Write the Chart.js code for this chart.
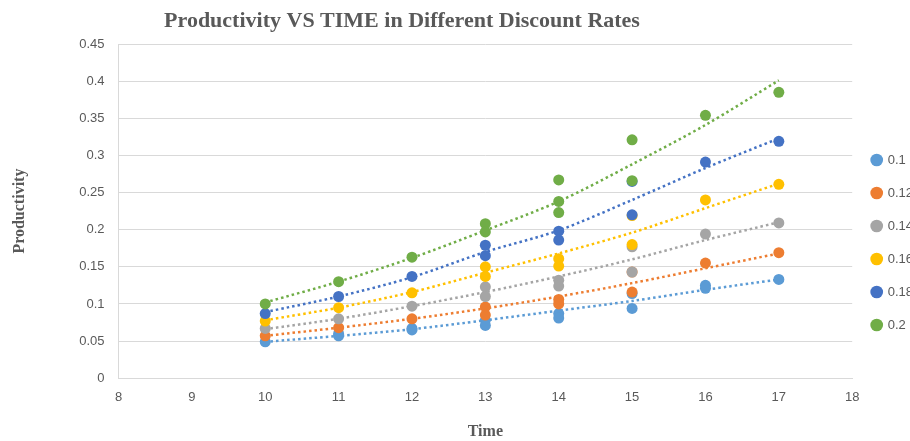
<!DOCTYPE html>
<html lang="en">
<head>
    <meta charset="UTF-8">
    <title>Productivity VS TIME in Different Discount Rates</title>
    <script src="https://cdn.jsdelivr.net/npm/chart.js"></script>
    <style>
        html, body { margin: 0; padding: 0; overflow: hidden; background: #fff; }
        #wrap { width: 923px; height: 441px; position: relative; }
    </style>
</head>
<body>
    <div id="wrap">
        <canvas id="myChart"></canvas>
    </div>

    <script>
        // discount rates (legend)
        const rates = ['0.1', '0.12', '0.14', '0.16', '0.18', '0.2'];
        const colors = ['#5B9BD5', '#ED7D31', '#A5A5A5', '#FFC000', '#4472C4', '#70AD47'];

        // observed points, per rate
        const time01 = [10, 11, 11, 12, 12, 13, 13, 14, 14, 15, 15, 16, 16, 17];
        const prod01 = [0.049, 0.060, 0.057, 0.067, 0.065, 0.078, 0.071, 0.087, 0.081, 0.114, 0.094, 0.125, 0.121, 0.133];
        const time012 = [10, 11, 12, 13, 13, 14, 14, 15, 15, 16, 17];
        const prod012 = [0.057, 0.068, 0.080, 0.096, 0.085, 0.106, 0.100, 0.143, 0.116, 0.155, 0.169];
        const time014 = [10, 11, 12, 13, 13, 14, 14, 15, 15, 16, 17];
        const prod014 = [0.067, 0.080, 0.097, 0.123, 0.110, 0.132, 0.124, 0.177, 0.143, 0.194, 0.209];
        const time016 = [10, 11, 12, 13, 13, 14, 14, 15, 15, 16, 17];
        const prod016 = [0.077, 0.095, 0.115, 0.150, 0.137, 0.161, 0.151, 0.219, 0.180, 0.240, 0.261];
        const time018 = [10, 11, 12, 13, 13, 14, 14, 15, 15, 16, 17];
        const prod018 = [0.087, 0.110, 0.137, 0.179, 0.165, 0.198, 0.186, 0.265, 0.220, 0.291, 0.319];
        const time02 = [10, 11, 12, 13, 13, 14, 14, 14, 15, 15, 16, 17];
        const prod02 = [0.100, 0.130, 0.163, 0.208, 0.197, 0.267, 0.238, 0.223, 0.321, 0.266, 0.354, 0.385];

        // dotted trendlines
        const trendTime = [10, 11, 12, 13, 14, 15, 16, 17];
        const trend01 = [0.049, 0.057, 0.066, 0.078, 0.091, 0.104, 0.119, 0.133];
        const trend012 = [0.057, 0.068, 0.080, 0.094, 0.110, 0.128, 0.148, 0.168];
        const trend014 = [0.066, 0.080, 0.097, 0.116, 0.137, 0.160, 0.186, 0.210];
        const trend016 = [0.078, 0.095, 0.116, 0.142, 0.168, 0.196, 0.229, 0.262];
        const trend018 = [0.089, 0.110, 0.136, 0.170, 0.199, 0.240, 0.283, 0.323];
        const trend02 = [0.102, 0.130, 0.162, 0.199, 0.238, 0.288, 0.341, 0.401];

        const xTicks = [8, 9, 10, 11, 12, 13, 14, 15, 16, 17, 18];
        const yTicks = [0, 0.05, 0.1, 0.15, 0.2, 0.25, 0.3, 0.35, 0.4, 0.45];

        const times = [time01, time012, time014, time016, time018, time02];
        const prods = [prod01, prod012, prod014, prod016, prod018, prod02];
        const trends = [trend01, trend012, trend014, trend016, trend018, trend02];

        const pts = (xs, ys) => xs.map((x, i) => ({x: x, y: ys[i]}));

        const datasets = [];
        rates.forEach((r, i) => {
            datasets.push({
                type: 'scatter',
                label: r,
                data: pts(times[i], prods[i]),
                backgroundColor: colors[i],
                borderColor: colors[i],
                borderWidth: 0,
                pointRadius: 5.5,
                pointHoverRadius: 5.5,
                order: 20 - i
            });
        });
        rates.forEach((r, i) => {
            datasets.push({
                type: 'line',
                label: 'trend ' + r,
                data: pts(trendTime, trends[i]),
                borderColor: colors[i],
                borderWidth: 2.5,
                borderDash: [2.5, 3],
                pointRadius: 0,
                fill: false,
                tension: 0.3,
                order: 40 - i
            });
        });

        const titleFont = "bold 22px 'Liberation Serif', 'Times New Roman', serif";
        const tickFamily = "'Liberation Sans Narrow', 'Liberation Sans', Arial, sans-serif";

        // chart title, drawn a bit left of the middle like the original
        const topTitle = {
            id: 'topTitle',
            afterDraw(chart) {
                const ctx = chart.ctx;
                ctx.save();
                ctx.font = titleFont;
                ctx.fillStyle = '#595959';
                ctx.textAlign = 'center';
                ctx.textBaseline = 'middle';
                ctx.fillText('Productivity VS TIME in Different Discount Rates', 402, 21);
                ctx.restore();
            }
        };

        new Chart(document.getElementById('myChart'), {
            data: { datasets: datasets },
            plugins: [topTitle],
            options: {
                responsive: true,
                maintainAspectRatio: false,
                animation: false,
                layout: { padding: { top: 44, left: 10, right: 0, bottom: 0 } },
                plugins: {
                    title: { display: false },
                    tooltip: { enabled: false },
                    legend: {
                        position: 'right',
                        labels: {
                            usePointStyle: true,
                            pointStyle: 'circle',
                            boxWidth: 9,
                            boxHeight: 9,
                            padding: 20,
                            color: '#595959',
                            font: { size: 13, family: tickFamily },
                            filter: (item) => item.datasetIndex < rates.length,
                            sort: (a, b) => a.datasetIndex - b.datasetIndex
                        }
                    }
                },
                scales: {
                    x: {
                        type: 'linear',
                        min: 8,
                        max: 18,
                        afterBuildTicks: (axis) => { axis.ticks = xTicks.map(v => ({value: v})); },
                        grid: { display: false },
                        border: { display: true, color: '#D9D9D9', width: 1 },
                        ticks: { color: '#595959', font: { size: 13, family: tickFamily }, padding: 3 },
                        title: {
                            display: true,
                            text: 'Time',
                            color: '#595959',
                            font: { size: 16, weight: 'bold', family: "'Liberation Serif', 'Times New Roman', serif" },
                            padding: { top: 14, bottom: 0 }
                        }
                    },
                    y: {
                        type: 'linear',
                        min: 0,
                        max: 0.45,
                        afterBuildTicks: (axis) => { axis.ticks = yTicks.map(v => ({value: v})); },
                        grid: { color: '#D9D9D9', drawTicks: false },
                        border: { display: true, color: '#D9D9D9', width: 1 },
                        ticks: {
                            color: '#595959',
                            font: { size: 13, family: tickFamily },
                            padding: 14,
                            callback: (v) => String(Number(v.toFixed(2)))
                        },
                        title: {
                            display: true,
                            text: 'Productivity',
                            color: '#595959',
                            font: { size: 16, weight: 'bold', family: "'Liberation Serif', 'Times New Roman', serif" },
                            padding: { top: 0, bottom: 36 }
                        }
                    }
                }
            }
        });
    </script>
</body>
</html>
